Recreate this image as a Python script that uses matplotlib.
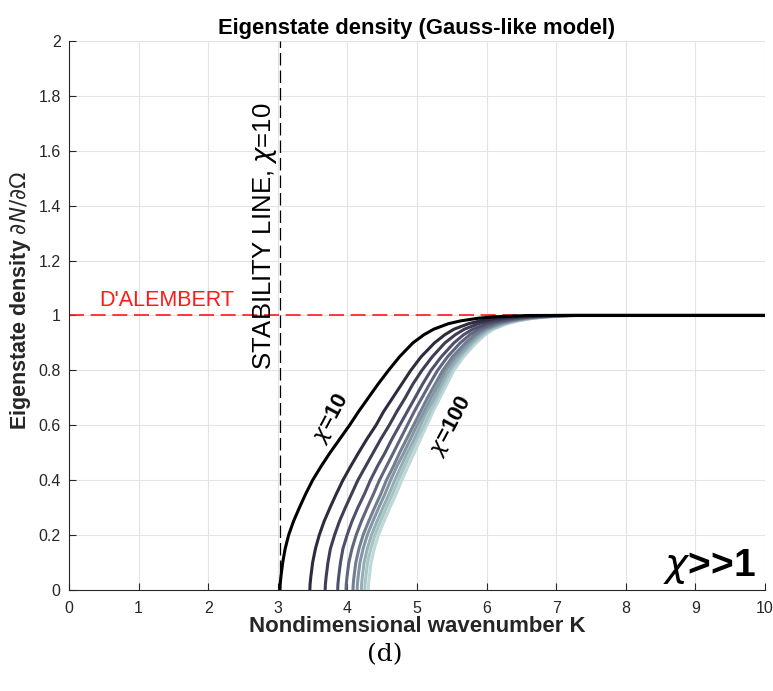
import numpy as np
import matplotlib
matplotlib.use('Agg')
import matplotlib.pyplot as plt

plt.rcParams['font.family'] = ['Liberation Sans', 'DejaVu Sans']
plt.rcParams['mathtext.fontset'] = 'dejavusans'

# density levels shared by all curves
levels = [0, 0.02, 0.05, 0.1, 0.15, 0.2, 0.25, 0.3, 0.35, 0.4, 0.45, 0.5, 0.55, 0.6,
          0.65, 0.7, 0.75, 0.8, 0.85, 0.9, 0.93, 0.95, 0.97, 0.98, 0.99, 0.995, 1.0, 1.0]

# wavenumber K at each level, one list per chi
chi = [10, 20, 30, 40, 50, 60, 70, 80, 90, 100]
K10 = [3.03, 3.033, 3.045, 3.07, 3.105, 3.155, 3.225, 3.31, 3.40, 3.50, 3.62, 3.75, 3.89, 4.03,
       4.16, 4.30, 4.44, 4.59, 4.75, 4.94, 5.10, 5.24, 5.45, 5.62, 5.88, 6.10, 6.60, 10]
K20 = [3.46, 3.463, 3.475, 3.50, 3.54, 3.595, 3.665, 3.75, 3.84, 3.935, 4.045, 4.16, 4.28, 4.41,
       4.52, 4.65, 4.78, 4.91, 5.06, 5.25, 5.40, 5.53, 5.74, 5.90, 6.15, 6.37, 6.84, 10]
K30 = [3.68, 3.683, 3.695, 3.72, 3.755, 3.815, 3.885, 3.97, 4.06, 4.15, 4.26, 4.37, 4.48, 4.60,
       4.71, 4.83, 4.94, 5.07, 5.22, 5.40, 5.55, 5.68, 5.88, 6.04, 6.29, 6.51, 6.96, 10]
K40 = [3.86, 3.863, 3.875, 3.90, 3.935, 3.995, 4.065, 4.15, 4.245, 4.33, 4.43, 4.54, 4.64, 4.75,
       4.86, 4.97, 5.08, 5.20, 5.35, 5.53, 5.67, 5.80, 6.00, 6.16, 6.40, 6.62, 7.05, 10]
K50 = [3.98, 3.983, 3.995, 4.02, 4.065, 4.125, 4.20, 4.285, 4.375, 4.46, 4.56, 4.66, 4.76, 4.86,
       4.96, 5.07, 5.18, 5.295, 5.44, 5.62, 5.76, 5.885, 6.09, 6.24, 6.48, 6.70, 7.125, 10]
K60 = [4.08, 4.083, 4.095, 4.12, 4.165, 4.225, 4.305, 4.39, 4.48, 4.56, 4.66, 4.75, 4.85, 4.95,
       5.05, 5.15, 5.26, 5.37, 5.51, 5.695, 5.83, 5.95, 6.155, 6.31, 6.54, 6.76, 7.18, 10]
K70 = [4.14, 4.143, 4.155, 4.18, 4.225, 4.285, 4.365, 4.45, 4.54, 4.62, 4.71, 4.81, 4.905, 5.00,
       5.10, 5.20, 5.31, 5.41, 5.555, 5.74, 5.87, 5.99, 6.19, 6.35, 6.58, 6.80, 7.21, 10]
K80 = [4.20, 4.203, 4.215, 4.24, 4.285, 4.345, 4.425, 4.51, 4.60, 4.68, 4.77, 4.86, 4.96, 5.05,
       5.14, 5.25, 5.35, 5.455, 5.60, 5.78, 5.91, 6.03, 6.23, 6.38, 6.62, 6.84, 7.24, 10]
K90 = [4.25, 4.253, 4.265, 4.29, 4.335, 4.395, 4.475, 4.56, 4.65, 4.73, 4.82, 4.91, 5.00, 5.10,
       5.19, 5.29, 5.39, 5.49, 5.63, 5.81, 5.945, 6.065, 6.265, 6.42, 6.65, 6.87, 7.27, 10]
K100 = [4.30, 4.303, 4.315, 4.34, 4.385, 4.445, 4.525, 4.61, 4.70, 4.78, 4.87, 4.96, 5.05, 5.14,
        5.23, 5.33, 5.43, 5.53, 5.67, 5.85, 5.98, 6.10, 6.30, 6.45, 6.68, 6.90, 7.30, 10]
curves = [K10, K20, K30, K40, K50, K60, K70, K80, K90, K100]

stability_K = 3.03
dalembert = 1.0

fig = plt.figure(figsize=(7.73, 6.91), dpi=100)
ax = fig.add_axes([0.0893, 0.1462, 0.9004, 0.7945])

ax.axhline(dalembert, color='#ff1a1a', lw=1.2, ls=(0, (9, 4)), zorder=2)
ax.axvline(stability_K, color='black', lw=0.9, ls=(0, (10, 4)), zorder=2)

cmap = plt.get_cmap('bone')
for i in range(len(curves) - 1, -1, -1):
    c = 'black' if i == 0 else cmap(0.12 + 0.7 * i / (len(curves) - 1))
    ax.plot(curves[i], levels, color=c, lw=2.2, solid_capstyle='butt', zorder=3 + (10 - i))

ax.set_xlim(0, 10)
ax.set_ylim(0, 2)
ax.set_xticks(np.arange(0, 11, 1))
ax.set_yticks(np.arange(0, 2.01, 0.2))
ax.set_yticklabels(['0', '0.2', '0.4', '0.6', '0.8', '1', '1.2', '1.4', '1.6', '1.8', '2'])
ax.grid(True, color='#e3e3e3', lw=0.8)
ax.set_axisbelow(True)
for s in ['top', 'right']:
    ax.spines[s].set_visible(False)
for s in ['left', 'bottom']:
    ax.spines[s].set_color('#262626')
ax.tick_params(direction='in', length=5, colors='#262626', labelsize=11.5, pad=6)
ax.tick_params(axis='x', pad=8)

ax.set_title('Eigenstate density (Gauss-like model)', fontsize=15.8, fontweight='bold', pad=5)
ax.set_xlabel('Nondimensional wavenumber K', fontsize=16, fontweight='bold', color='#262626', labelpad=0)
ax.set_ylabel(r'Eigenstate density $\partial N/\partial\Omega$', fontsize=15.5, fontweight='bold',
              color='#262626')
ax.yaxis.set_label_coords(-0.052, 0.528)

ax.text(1.41, 1.015, "D'ALEMBERT", color='#ff1a1a', fontsize=15.5, ha='center', va='bottom')
ax.text(2.82, 1.29, r'STABILITY LINE, $\chi$=10', fontsize=18.5, rotation=90, ha='center', va='center')
ax.text(3.77, 0.625, r'$\chi$=10', fontsize=16, fontweight='bold', rotation=62, ha='center', va='center')
ax.text(5.49, 0.60, r'$\chi$=100', fontsize=16, fontweight='bold', rotation=62, ha='center', va='center')
ax.text(9.86, 0.015, r'$\chi$>>1', fontsize=28, fontweight='bold', ha='right', va='bottom')

fig.text(0.498, 0.052, '(d)', fontsize=18, family='DejaVu Serif', ha='center', va='center')

fig.savefig('out.png', dpi=100)
